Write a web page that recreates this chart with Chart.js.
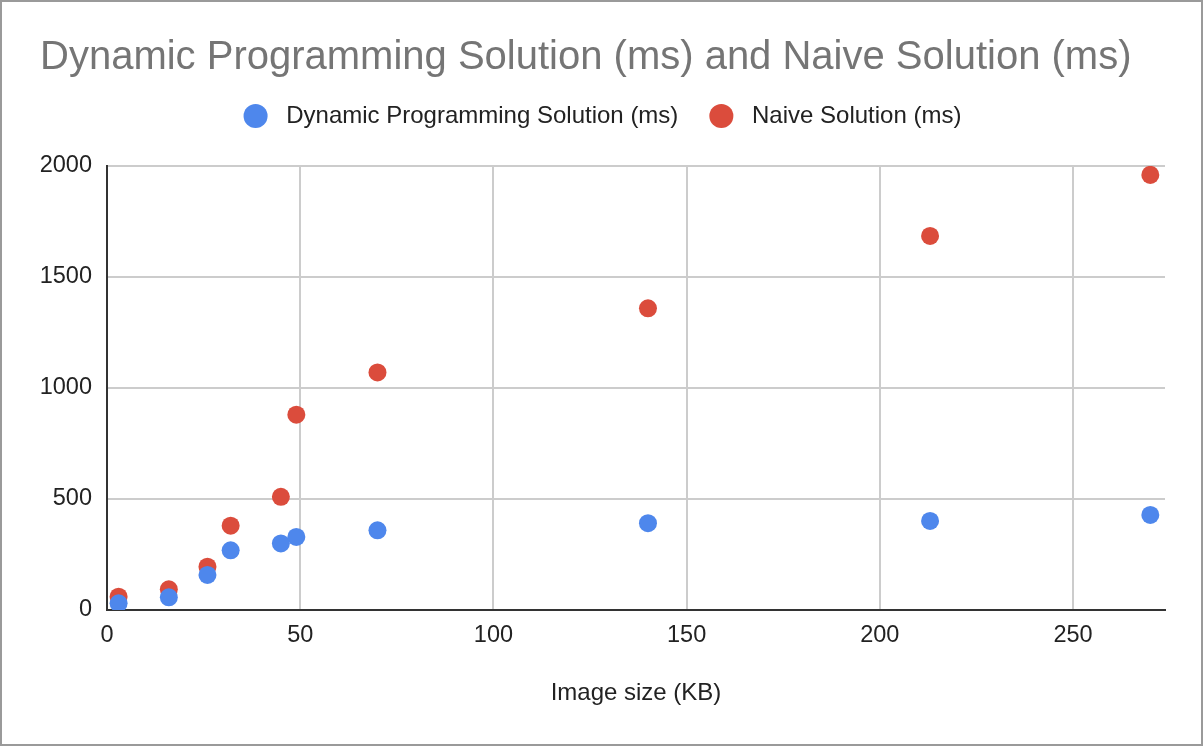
<!DOCTYPE html>
<html>
<head>
<meta charset="utf-8">
<script src="https://cdn.jsdelivr.net/npm/chart.js@4.4.1/dist/chart.umd.min.js"></script>
<style>
  html, body { margin: 0; padding: 0; background: #ffffff; }
  #wrap { width: 1204px; height: 748px; }
</style>
</head>
<body>
<div id="wrap"><canvas id="c" width="1204" height="748"></canvas></div>
<script>
const chartTitle = 'Dynamic Programming Solution (ms) and Naive Solution (ms)';
const xAxisTitle = 'Image size (KB)';
const seriesNames = ['Dynamic Programming Solution (ms)', 'Naive Solution (ms)'];
const imageSizes = [3, 16, 26, 32, 45, 49, 70, 140, 213, 270];
const dynamicMs = [30, 57, 158, 269, 300, 329, 359, 391, 401, 428];
const naiveMs = [60, 93, 195, 380, 510, 880, 1070, 1359, 1685, 1960];
const seriesColors = ['#4e87ec', '#db4c3c'];

const FONT = "'Liberation Sans', Arial, Helvetica, sans-serif";

function toPoints(xs, ys) { return xs.map((x, i) => ({ x: x, y: ys[i] })); }

const framePlugin = {
  id: 'frame',
  beforeDraw(chart) {
    const ctx = chart.ctx;
    ctx.save();
    ctx.fillStyle = '#ffffff';
    ctx.fillRect(0, 0, chart.width, chart.height);
    ctx.restore();
  },
  afterDraw(chart) {
    const ctx = chart.ctx;
    ctx.save();
    ctx.strokeStyle = '#9a9a9a';
    ctx.lineWidth = 2;
    ctx.strokeRect(1, 1, chart.width - 3, chart.height - 4);
    ctx.restore();
  }
};

new Chart(document.getElementById('c'), {
  type: 'scatter',
  data: {
    datasets: [
      { label: seriesNames[0], data: toPoints(imageSizes, dynamicMs), backgroundColor: seriesColors[0], borderColor: seriesColors[0], borderWidth: 0, pointRadius: 9, pointHoverRadius: 9 },
      { label: seriesNames[1], data: toPoints(imageSizes, naiveMs), backgroundColor: seriesColors[1], borderColor: seriesColors[1], borderWidth: 0, pointRadius: 9, pointHoverRadius: 9 }
    ]
  },
  options: {
    responsive: false,
    animation: false,
    devicePixelRatio: 1,
    layout: { padding: { left: 40, right: 39, top: 0, bottom: 0 } },
    plugins: {
      title: {
        display: true, text: chartTitle, align: 'start', color: '#757575',
        font: { family: FONT, size: 40, weight: 'normal', lineHeight: 0.75 },
        padding: { top: 43, bottom: 0 }
      },
      subtitle: {
        display: true, text: '', weight: 500,
        font: { family: FONT, size: 10, lineHeight: 1 },
        padding: { top: 18, bottom: 0 }
      },
      legend: {
        display: true, position: 'top', align: 'center',
        labels: {
          usePointStyle: true, pointStyle: 'circle', boxHeight: 17, padding: 31, color: '#222222',
          font: { family: FONT, size: 24 },
          generateLabels(chart) {
            return chart.data.datasets.map((ds, i) => ({
              text: ' ' + ds.label,
              fillStyle: ds.backgroundColor,
              strokeStyle: ds.backgroundColor,
              lineWidth: 0,
              pointStyle: 'circle',
              hidden: false,
              datasetIndex: i,
              fontColor: '#222222'
            }));
          }
        }
      },
      tooltip: { enabled: false }
    },
    scales: {
      x: {
        type: 'linear', min: 0, max: 273.8,
        afterFit(scale) { scale.height = 138; },
        ticks: { stepSize: 50, includeBounds: false, color: '#222222', padding: 11, font: { family: FONT, size: 23.5 }, maxRotation: 0,
                 callback: (v) => String(v) },
        grid: { color: '#cccccc', lineWidth: 2, drawTicks: false },
        border: { display: true, color: '#333333', width: 2 },
        title: { display: true, text: xAxisTitle, color: '#222222', font: { family: FONT, size: 24, lineHeight: 1.2 }, padding: { top: 0, bottom: 40 } }
      },
      y: {
        type: 'linear', min: 0, max: 2000,
        afterFit(scale) { scale.width = 67; },
        ticks: { stepSize: 500, color: '#222222', padding: 15, font: { family: FONT, size: 23.5 },
                 callback: (v) => String(v) },
        grid: { color: '#cccccc', lineWidth: 2, drawTicks: false },
        border: { display: true, color: '#333333', width: 2 }
      }
    }
  },
  plugins: [framePlugin]
});
</script>
</body>
</html>
